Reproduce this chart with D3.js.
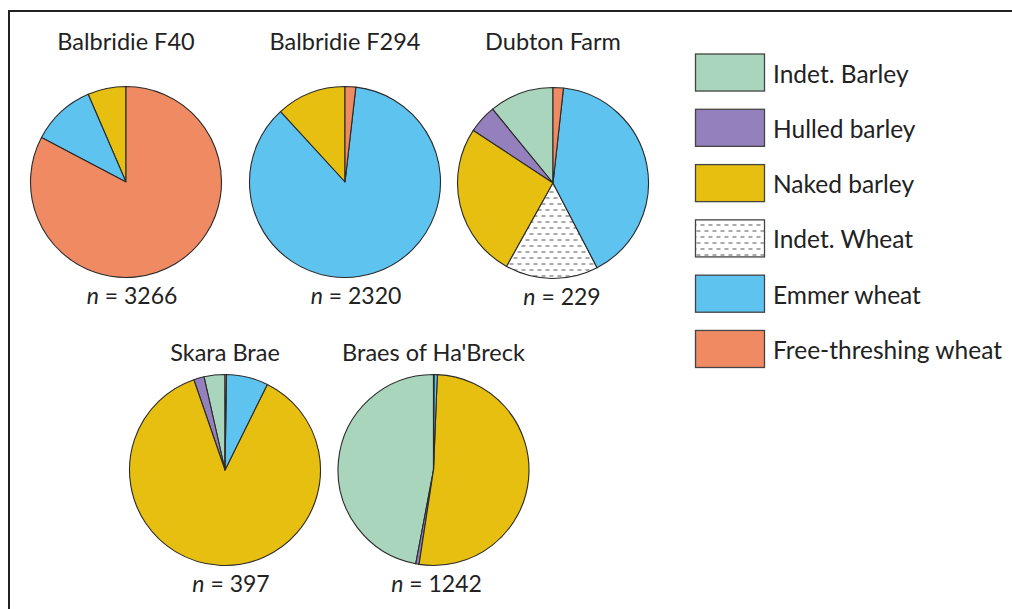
<!DOCTYPE html>
<html><head><meta charset="utf-8">
<script src="https://cdn.jsdelivr.net/npm/d3@7"></script>
<style>body{margin:0;background:#fff}svg{display:block}</style>
</head><body>
<script>
const categories = ["Indet. Barley","Hulled barley","Naked barley","Indet. Wheat","Emmer wheat","Free-threshing wheat"];
const sites = ["Balbridie F40","Balbridie F294","Dubton Farm","Skara Brae","Braes of Ha'Breck"];
const totals = [3266,2320,229,397,1242];
const indetBarley = [0,0,25,14,584];
const hulledBarley = [0,0,11,7,7];
const nakedBarley = [212,274,60,347,643];
const indetWheat = [0,0,36,0,0];
const emmerWheat = [353,2004,93,28,7];
const freeThreshing = [2701,42,4,1,1];

const series = [indetBarley,hulledBarley,nakedBarley,indetWheat,emmerWheat,freeThreshing];
const colors = ["#a8d5bc","#9480bd","#e6bf10","url(#hatch)","#5ec3ef","#f08a63"];

const W = 1012, H = 609;
const svg = d3.select("body").append("svg").attr("width", W).attr("height", H);
const FONT = "Lato, 'Open Sans', sans-serif";

const defs = svg.append("defs");
const pat = defs.append("pattern").attr("id","hatch").attr("patternUnits","userSpaceOnUse")
  .attr("width",8).attr("height",12);
pat.append("rect").attr("width",8).attr("height",12).attr("fill","#fff");
pat.append("line").attr("x1",0.5).attr("x2",4.5).attr("y1",3).attr("y2",3).attr("stroke","#555").attr("stroke-width",1);
pat.append("line").attr("x1",4.5).attr("x2",8.5).attr("y1",9).attr("y2",9).attr("stroke","#555").attr("stroke-width",1);
pat.append("line").attr("x1",-3.5).attr("x2",0.5).attr("y1",9).attr("y2",9).attr("stroke","#555").attr("stroke-width",1);

// frame
svg.append("path").attr("d","M9,609 V11 H1012").attr("fill","none").attr("stroke","#222").attr("stroke-width",2);

// layout
const centersX = [126, 345, 553, 225, 433.5];
const centersY = [182, 182, 183, 470, 470];
const titleY = [50, 50, 50, 361, 361];
const labelDX = [6, 11, 9, 6, 3];
const R = 95.5;

const pie = d3.pie().sort(null).value(d => d.v).startAngle(0).endAngle(-2*Math.PI);
const arc = d3.arc().innerRadius(0).outerRadius(R);

sites.forEach((s, i) => {
  const data = categories.map((c, k) => ({c, k, v: series[k][i]})).filter(d => d.v > 0);
  const g = svg.append("g").attr("transform", `translate(${centersX[i]},${centersY[i]})`);
  g.selectAll("path").data(pie(data)).join("path")
    .attr("d", arc)
    .attr("fill", d => colors[d.data.k])
    .attr("stroke", "#2a2a2a").attr("stroke-width", 1.1).attr("stroke-linejoin","round");
  svg.append("text").attr("x", centersX[i]).attr("y", titleY[i]).attr("text-anchor","middle")
    .attr("font-family", FONT).attr("font-size", 23.5).attr("fill","#222").text(s);
  const t = g.append("text").attr("x", labelDX[i]).attr("y", R + 26).attr("text-anchor","middle")
    .attr("font-family", FONT).attr("font-size", 23).attr("fill","#222");
  t.append("tspan").attr("font-style","italic").text("n");
  t.append("tspan").text(" = " + totals[i]);
});

// legend
const ly = d3.scaleBand().domain(categories).range([54, 367.5]).paddingInner(0.33);
const lg = svg.append("g");
categories.forEach((c, k) => {
  lg.append("rect").attr("x",695.5).attr("y",ly(c)).attr("width",69).attr("height",ly.bandwidth())
    .attr("fill",colors[k]).attr("stroke","#444").attr("stroke-width",1.3);
  lg.append("text").attr("x",773).attr("y",ly(c)+ly.bandwidth()/2+10)
    .attr("font-family",FONT).attr("font-size",24.5).attr("fill","#222").text(c);
});
</script>
</body></html>
